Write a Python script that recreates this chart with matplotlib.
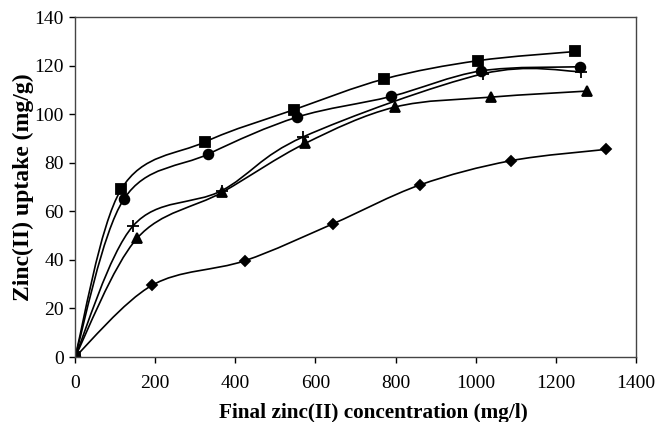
import numpy as np
import matplotlib
matplotlib.use("Agg")
import matplotlib.pyplot as plt
from matplotlib.path import Path
from matplotlib.patches import PathPatch

plt.rcParams["font.family"] = ["Liberation Serif", "DejaVu Serif"]

sq_x = [0, 115, 325, 546, 772, 1005, 1249]
sq_y = [0, 69, 88.6, 101.8, 114.5, 122, 125.8]
ci_x = [0, 122, 333, 555, 789, 1013, 1260]
ci_y = [0, 65, 83.6, 98.8, 107.3, 117.8, 119.5]
pl_x = [0, 145, 366, 569, 1018, 1263]
pl_y = [0, 54, 68.5, 90.6, 116.6, 117.5]
tr_x = [0, 155, 367, 575, 798, 1038, 1278]
tr_y = [0, 48.9, 67.8, 88, 102.9, 107, 109.5]
di_x = [0, 192, 423, 643, 860, 1087, 1326]
di_y = [0, 29.5, 39.6, 54.8, 70.8, 80.8, 85.5]

series = [
    (sq_x, sq_y, "s", 6.5),
    (ci_x, ci_y, "o", 7),
    (pl_x, pl_y, "+", 9),
    (tr_x, tr_y, "^", 7),
    (di_x, di_y, "D", 5.5),
]


def smooth_path(x, y):
    # excel style smoothed line as cubic bezier segments
    p = np.column_stack([x, y]).astype(float)
    n = len(p)
    verts = [p[0]]
    codes = [Path.MOVETO]
    for i in range(n - 1):
        p0 = p[i - 1] if i > 0 else p[i]
        p3 = p[i + 2] if i + 2 < n else p[i + 1]
        c1 = p[i] + (p[i + 1] - p0) / 6
        c2 = p[i + 1] - (p3 - p[i]) / 6
        verts += [c1, c2, p[i + 1]]
        codes += [Path.CURVE4] * 3
    return Path(verts, codes)


fig = plt.figure(figsize=(6.57, 4.22), dpi=100)
ax = fig.add_axes([75 / 657, 1 - 357 / 422, 561 / 657, 340 / 422])

for x, y, m, ms in series:
    ax.add_patch(PathPatch(smooth_path(x, y), fill=False, lw=1.2, color="black"))
    ax.plot(x, y, ls="none", marker=m, ms=ms, color="black", mew=1.3)

ax.set_xlim(0, 1400)
ax.set_ylim(0, 140)
ax.set_xticks(range(0, 1401, 200))
ax.set_yticks(range(0, 141, 20))
ax.tick_params(direction="out", length=4, width=1, labelsize=14, pad=4)
ax.tick_params(axis="x", pad=9)
for s in ax.spines.values():
    s.set_linewidth(1)
    s.set_color("#444444")

ax.set_xlabel("Final zinc(II) concentration (mg/l)", fontsize=15.3, fontweight="bold")
ax.xaxis.set_label_coords(298 / 561, -0.135)
ax.set_ylabel("Zinc(II) uptake (mg/g)", fontsize=17, fontweight="bold", labelpad=0)

fig.savefig("out.png", dpi=100)
